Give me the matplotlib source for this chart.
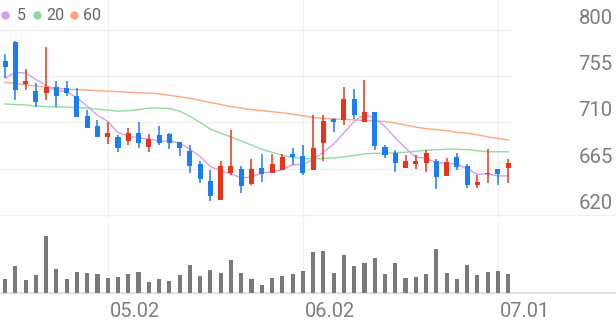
import matplotlib
matplotlib.use("Agg")
import matplotlib.pyplot as plt
import numpy as np

plt.rcParams["font.family"] = ["Roboto", "DejaVu Sans"]

# daily candles
opens = [770, 788, 747, 741, 739, 745, 744, 736, 716, 707,
         696, 696, 692, 700, 686, 698, 699, 691, 682, 670,
         653, 635, 661, 665, 650, 666, 661, 664, 679, 677,
         664, 690, 713, 712, 733, 710, 720, 686, 680, 666,
         670, 671, 673, 658, 676, 668, 649, 660, 665, 666]
closes = [764, 742, 750, 730, 745, 736, 739, 715, 705, 696,
          700, 685, 700, 690, 694, 690, 690, 685, 668, 655,
          638, 668, 668, 648, 665, 660, 670, 676, 676, 661,
          685, 711, 710, 733, 717, 720, 687, 678, 671, 673,
          672.5, 680, 657, 672, 667, 649, 652, 661, 660, 671]
highs = [777, 789, 762, 748, 783, 750, 750, 744, 722, 712,
         710, 698, 705, 710, 699, 707, 700, 691, 688, 673,
         664, 673, 703, 668, 674, 679, 679, 679, 685, 688,
         717, 717, 714, 745, 743, 751, 720, 688, 683, 678,
         678, 683, 674, 675, 680, 670, 659, 684, 665, 674]
lows = [753, 732, 742, 725, 732, 725, 736, 715, 705, 696,
        689, 681, 688, 685, 681, 688, 684, 677, 661, 651,
        634, 635, 659, 641, 649, 652, 661, 664, 669, 659,
        664, 673, 701, 708, 713, 710, 683, 675, 662, 666,
        664.5, 662, 645, 658, 664, 646, 646, 651, 649, 651]
volumes = [140, 273, 133, 183, 576, 240, 140, 210, 206, 193,
           156, 160, 190, 216, 113, 140, 126, 183, 283, 173,
           233, 200, 333, 200, 146, 86, 150, 176, 193, 226,
           416, 423, 200, 383, 273, 306, 350, 190, 306, 156,
           166, 190, 440, 200, 140, 283, 180, 216, 223, 193]

ma5 = [753, 759, 758, 752, 746, 741, 740, 734, 726, 717,
       711, 700, 697, 695, 694, 692, 692, 690, 684, 677,
       667, 663, 660, 656, 657, 661, 662, 664, 669, 669,
       674, 681, 689, 700, 711, 718, 714, 706, 695, 685,
       676.5, 675, 671, 670.5, 669.5, 665, 659.5, 660, 658, 658]
ma20 = [728, 727.5, 727, 726, 725.5, 725, 725, 724.5, 724, 723,
        722, 721, 721.5, 722.5, 724, 724, 723.5, 721, 716, 710,
        703.5, 699.5, 696, 692, 688, 684, 681, 678, 676, 675,
        674.5, 675, 675.5, 676.5, 678, 679.5, 680, 680, 680.5, 681,
        682, 683, 683.5, 684, 684, 683.5, 682.5, 681.5, 681.5, 681.5]
ma60 = [749, 748, 746.5, 745.5, 744.5, 743.5, 742.5, 742, 741.5, 741,
        740.5, 740, 739.5, 739, 738.5, 738, 736.5, 735, 733.5, 731.5,
        729.5, 727.5, 725.5, 724, 722.5, 721.5, 720.5, 719.5, 718, 716.5,
        715, 714, 713.5, 713, 712.5, 712, 711.5, 711, 709.5, 707.5,
        705.5, 704, 703, 702, 700.5, 699.5, 698, 696, 694.5, 693]

price_ticks = [620, 665, 710, 755, 800]
date_idx = [10, 29, 48]
date_labels = ["05.02", "06.02", "07.01"]

RED = "#e8341a"
BLUE = "#1a7ef2"
GRID = "#f0f0f0"
TXT = "#7d7d7d"

W, H = 616, 321
PT = 72 / 100  # pt per px at dpi 100

fig = plt.figure(figsize=(W / 100, H / 100), dpi=100)
ax = fig.add_axes([0, 1 - 220 / H, 511 / W, 220 / H])
axv = fig.add_axes([0, 1 - 293.3 / H, 511 / W, 71.3 / H])

x = np.arange(len(opens))
o = np.array(opens, float)
c = np.array(closes, float)
up = c >= o
cols = np.where(up, RED, BLUE)

for a in (ax, axv):
    a.set_xlim(-0.49, 49.27)
    a.axis("off")
    for i in date_idx:
        a.axvline(i, color=GRID, lw=1, zorder=0)

ax.set_ylim(615.1, 829.2)
for v in price_ticks:
    xmax = W / 511 if v == price_ticks[0] else 1
    ax.axhline(v, xmin=0, xmax=xmax, color=GRID, lw=1, zorder=0, clip_on=False)
    ax.annotate(str(v), xy=(1, v), xycoords=ax.get_yaxis_transform(),
                xytext=(101.7 * PT, 6 * PT), textcoords="offset points",
                ha="right", va="baseline", fontsize=14.6, color=TXT,
                annotation_clip=False)

ax.plot(x, ma60, color="#ffa67f", lw=1.0, zorder=2)
ax.plot(x, ma20, color="#8fdb9e", lw=1.0, zorder=2)
ax.plot(x, ma5, color="#d79cf2", lw=1.0, zorder=2)

ax.vlines(x, lows, highs, colors=cols, lw=1.1, zorder=3)
body = np.maximum(np.abs(c - o), 1.3)
ax.bar(x, body, bottom=np.minimum(o, c), width=0.49, color=cols, zorder=4)

# legend
for dx, tx, col, lab in [(5.3, 16.7, "#d79cf2", "5"), (36.7, 46.7, "#8fdb9e", "20"),
                         (74, 83.3, "#ffa67f", "60")]:
    ax.plot([dx / 511], [1 - 15 / 220], "o", ms=7 * PT, color=col,
            transform=ax.transAxes, clip_on=False)
    ax.text(tx / 511, 1 - 15 / 220, lab, transform=ax.transAxes,
            ha="left", va="center", fontsize=11.5, color="#666666")

axv.set_ylim(0, 713)
axv.bar(x, volumes, width=0.4, color="#7a7a7a", zorder=2)
axv.axhline(0, xmin=0, xmax=W / 511, color="#e2e2e2", lw=1.5, clip_on=False, zorder=1)
for i, lab in zip(date_idx, date_labels):
    axv.annotate(lab, xy=(i, 0), xycoords="data", xytext=(1.7 * PT, -23.4 * PT),
                 textcoords="offset points", ha="left", va="baseline",
                 fontsize=14.4, color=TXT, annotation_clip=False)

fig.savefig("out.png", dpi=100)
